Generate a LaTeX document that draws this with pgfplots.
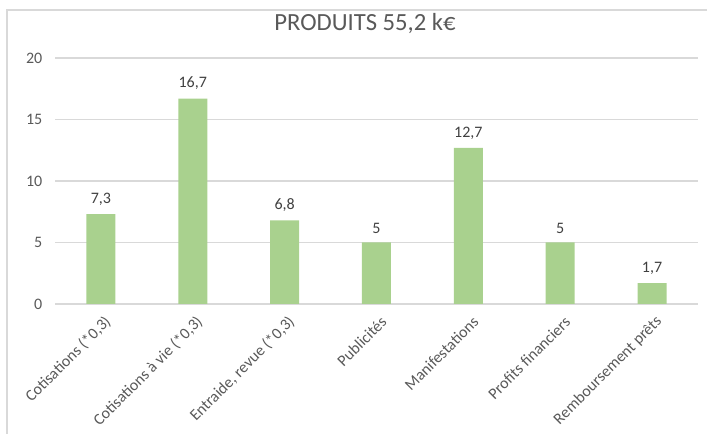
\documentclass[border=0pt]{standalone}
\usepackage{fontspec}
\setmainfont{Carlito}
\usepackage{pgfplots}
\pgfplotsset{compat=1.18}
\definecolor{barg}{HTML}{A9D18E}
\definecolor{gridc}{HTML}{D9D9D9}
\definecolor{txt}{HTML}{595959}
\definecolor{lbl}{HTML}{404040}
\begin{document}
\begin{tikzpicture}
\useasboundingbox (0,0) rectangle (530.25pt,325.5pt);
\draw[gridc, line width=0.8pt] (5.25pt,0) -- (5.25pt,318pt) -- (530.25pt,318pt);
\node[font=\fontsize{18.5}{20}\selectfont, text=txt] at (273.75pt,308pt) {PRODUITS 55,2 k€};
\begin{axis}[
  at={(41.25pt,97.5pt)}, anchor=south west,
  scale only axis, width=482.25pt, height=184.5pt,
  ybar, bar width=21.75pt,
  xmin=-0.5, xmax=6.5, ymin=0, ymax=20,
  ytick={0,5,10,15,20},
  xtick={0,1,2,3,4,5,6},
  xticklabels={{Cotisations (*0,3)},{Cotisations à vie (*0,3)},{Entraide, revue (*0,3)},{Publicités},{Manifestations},{Profits financiers},{Remboursement prêts}},
  major tick length=0pt,
  axis x line*=bottom, axis y line*=left,
  y axis line style={draw=none},
  x axis line style={draw=gridc, -, line width=0.8pt},
  ymajorgrids, grid style={gridc, line width=0.8pt},
  /pgf/number format/assume math mode=true,
  /pgf/number format/use comma,
  /pgf/number format/1000 sep={},
  tick label style={font=\fontsize{12}{14}\selectfont, text=txt},
  yticklabel style={xshift=-6pt},
  xticklabel style={rotate=45, anchor=east, xshift=-0.75pt, yshift=-12pt},
  nodes near coords,
  every node near coord/.append style={font=\fontsize{12}{14}\selectfont, text=lbl, yshift=3pt},
]
\addplot[fill=barg, draw=none] coordinates {(0,7.3) (1,16.7) (2,6.8) (3,5) (4,12.7) (5,5) (6,1.7)};
\end{axis}
\end{tikzpicture}
\end{document}
